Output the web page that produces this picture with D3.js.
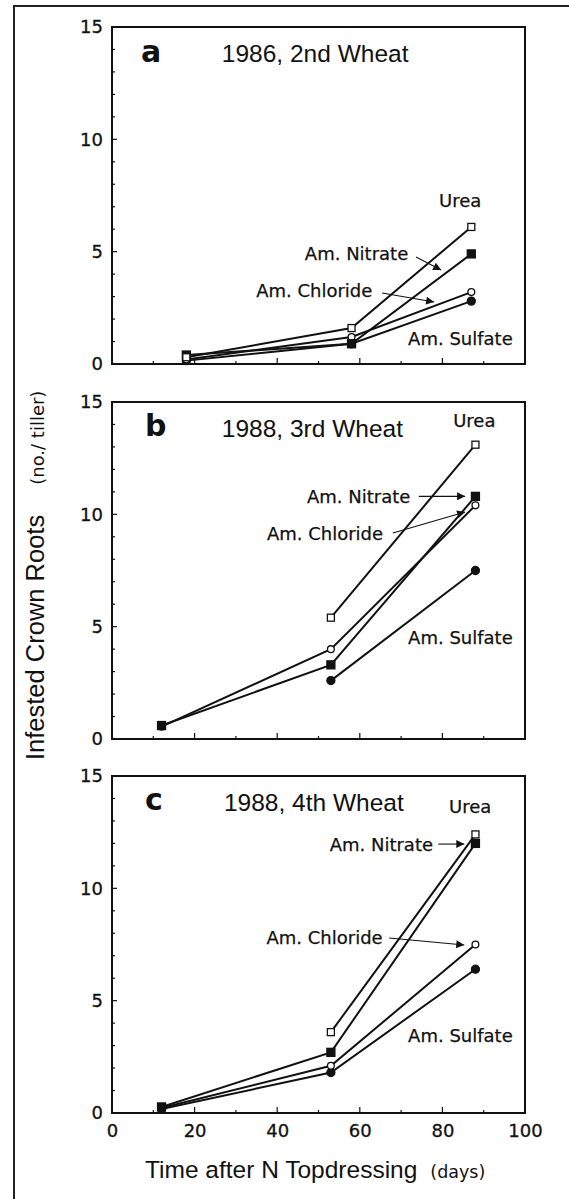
<!DOCTYPE html>
<html>
<head>
<meta charset="utf-8">
<script src="https://cdn.jsdelivr.net/npm/d3@7"></script>
<style>
  body { margin: 0; background: #fff; }
  svg { display: block; }
  .tick text { font-family: "DejaVu Sans", sans-serif; font-size: 18px; fill: #111; stroke: #111; stroke-width: 0.3px; }
  .lbl { font-family: "DejaVu Sans", sans-serif; font-size: 18px; fill: #111; stroke: #111; stroke-width: 0.25px; }
  .ttl { font-family: "Liberation Sans", Arial, sans-serif; font-size: 24.5px; fill: #111; }
  .let { font-family: "DejaVu Sans", sans-serif; font-size: 30px; font-weight: bold; fill: #111; }
</style>
</head>
<body>
<div id="chart"></div>
<script>
// days after topdressing for each panel
var daysA = [18, 58, 87];
var daysB = [12, 53, 88];
var daysC = [12, 53, 88];

// infested crown roots per tiller (null = not sampled)
var ureaA     = [0.3, 1.6, 6.1];
var nitrateA  = [0.4, 0.9, 4.9];
var chlorideA = [0.2, 1.2, 3.2];
var sulfateA  = [0.15, 0.9, 2.8];

var ureaB     = [null, 5.4, 13.1];
var nitrateB  = [0.6, 3.3, 10.8];
var chlorideB = [0.55, 4.0, 10.4];
var sulfateB  = [null, 2.6, 7.5];

var ureaC     = [null, 3.6, 12.4];
var nitrateC  = [0.27, 2.7, 12.0];
var chlorideC = [0.22, 2.1, 7.5];
var sulfateC  = [0.18, 1.8, 6.4];

var seriesNames = ['Urea', 'Am. Nitrate', 'Am. Chloride', 'Am. Sulfate'];
var markers = ['openSquare', 'filledSquare', 'openCircle', 'filledCircle'];

var panelLetters = ['a', 'b', 'c'];
var panelTitles = ['1986, 2nd Wheat', '1988, 3rd Wheat', '1988, 4th Wheat'];

var yTicks = [0, 5, 10, 15];
var xTicks = [0, 20, 40, 60, 80, 100];

// label anchors in data units: [x, y] for Urea, Nitrate, Chloride, Sulfate, title, letter
var labelPosA = [[79.2, 7.0], [46.7, 4.63], [34.9, 2.98], [71.7, 0.85], [26.6, 13.44], [7.0, 13.44]];
var labelPosB = [[82.6, 13.9], [47.2, 10.5], [37.5, 8.86], [71.7, 4.23], [26.6, 13.44], [8.0, 13.5]];
var labelPosC = [[81.6, 13.35], [52.7, 11.66], [37.4, 7.52], [71.7, 3.16], [27.1, 13.44], [8.0, 13.5]];

// arrows [x1, y1, x2, y2]: nitrate, chloride
var arrowsA = [[73.6, 4.76, 79.7, 4.18], [65.4, 3.16, 78.0, 2.76]];
var arrowsB = [[74.3, 10.8, 85.5, 10.8], [68.0, 9.17, 85.5, 10.1]];
var arrowsC = [[79.0, 11.97, 85.3, 11.97], [67.1, 7.79, 85.3, 7.48]];

var panels = [
    { days: daysA, values: [ureaA, nitrateA, chlorideA, sulfateA], labels: labelPosA, arrows: arrowsA, top: 27 },
    { days: daysB, values: [ureaB, nitrateB, chlorideB, sulfateB], labels: labelPosB, arrows: arrowsB, top: 402 },
    { days: daysC, values: [ureaC, nitrateC, chlorideC, sulfateC], labels: labelPosC, arrows: arrowsC, top: 776 }
];

var W = 569, H = 1199;
var left = 112, right = 525, ph = 337;

var svg = d3.select('#chart').append('svg')
    .attr('width', W)
    .attr('height', H);

svg.append('defs').append('marker')
    .attr('id', 'head')
    .attr('viewBox', '0 0 10 10')
    .attr('refX', 10).attr('refY', 5)
    .attr('markerWidth', 12).attr('markerHeight', 8)
    .attr('markerUnits', 'userSpaceOnUse')
    .attr('orient', 'auto')
    .append('path')
    .attr('d', 'M0,0 L10,5 L0,10 Z')
    .attr('fill', '#111');

// outer frame (runs off the page on the right and bottom)
svg.append('path')
    .attr('d', 'M14,' + (H + 5) + ' L14,6 L' + (W + 5) + ',6')
    .attr('fill', 'none')
    .attr('stroke', '#222')
    .attr('stroke-width', 2);

var x = d3.scaleLinear().domain([0, 100]).range([left, right]);

panels.forEach(function (p, pi) {
    var y = d3.scaleLinear().domain([0, 15]).range([p.top + ph, p.top]);
    var g = svg.append('g');

    // frame
    g.append('rect')
        .attr('x', left).attr('y', p.top)
        .attr('width', right - left).attr('height', ph)
        .attr('fill', 'none')
        .attr('stroke', '#111')
        .attr('stroke-width', 2);

    // y ticks, inward
    var yAxis = g.append('g')
        .attr('transform', 'translate(' + left + ',0)')
        .call(d3.axisLeft(y).tickValues(yTicks).tickSize(0).tickPadding(9));
    yAxis.select('.domain').remove();

    g.selectAll('.ymin')
        .data(d3.range(1, 15))
        .enter().append('line')
        .attr('x1', left).attr('x2', function (d) { return left + (d % 5 === 0 ? 5 : 3); })
        .attr('y1', function (d) { return y(d); })
        .attr('y2', function (d) { return y(d); })
        .attr('stroke', '#111').attr('stroke-width', 1.2);

    // x ticks, inward
    g.selectAll('.xmin')
        .data(d3.range(10, 100, 10))
        .enter().append('line')
        .attr('x1', function (d) { return x(d); })
        .attr('x2', function (d) { return x(d); })
        .attr('y1', p.top + ph)
        .attr('y2', function (d) { return p.top + ph - (d % 20 === 0 ? 6 : 3); })
        .attr('stroke', '#111').attr('stroke-width', 1.2);

    if (pi === 2) {
        var xAxis = g.append('g')
            .attr('transform', 'translate(0,' + (p.top + ph) + ')')
            .call(d3.axisBottom(x).tickValues(xTicks).tickSize(0).tickPadding(11));
        xAxis.select('.domain').remove();
    }

    // lines
    var line = d3.line()
        .defined(function (d) { return d[1] !== null; })
        .x(function (d) { return x(d[0]); })
        .y(function (d) { return y(d[1]); });

    p.values.forEach(function (vals) {
        var pts = p.days.map(function (d, i) { return [d, vals[i]]; });
        g.append('path')
            .datum(pts)
            .attr('d', line)
            .attr('fill', 'none')
            .attr('stroke', '#111')
            .attr('stroke-width', 2);
    });

    // markers (sulfate first so squares sit on top)
    [3, 2, 1, 0].forEach(function (si) {
        var vals = p.values[si];
        var pts = p.days.map(function (d, i) { return [d, vals[i]]; })
            .filter(function (d) { return d[1] !== null; });
        var kind = markers[si];
        var sel = g.selectAll('.m' + si).data(pts).enter();
        if (kind === 'openSquare' || kind === 'filledSquare') {
            var s = kind === 'openSquare' ? 7 : 8;
            sel.append('rect')
                .attr('x', function (d) { return x(d[0]) - s / 2; })
                .attr('y', function (d) { return y(d[1]) - s / 2; })
                .attr('width', s).attr('height', s)
                .attr('fill', kind === 'openSquare' ? '#fff' : '#111')
                .attr('stroke', '#111').attr('stroke-width', 1.3);
        } else {
            sel.append('circle')
                .attr('cx', function (d) { return x(d[0]); })
                .attr('cy', function (d) { return y(d[1]); })
                .attr('r', kind === 'openCircle' ? 3.4 : 4)
                .attr('fill', kind === 'openCircle' ? '#fff' : '#111')
                .attr('stroke', '#111').attr('stroke-width', 1.3);
        }
    });

    // series labels
    seriesNames.forEach(function (name, si) {
        g.append('text')
            .attr('class', 'lbl')
            .attr('x', x(p.labels[si][0]))
            .attr('y', y(p.labels[si][1]))
            .text(name);
    });

    g.append('text')
        .attr('class', 'ttl')
        .attr('x', x(p.labels[4][0]))
        .attr('y', y(p.labels[4][1]))
        .text(panelTitles[pi]);

    g.append('text')
        .attr('class', 'let')
        .attr('x', x(p.labels[5][0]))
        .attr('y', y(p.labels[5][1]))
        .text(panelLetters[pi]);

    // arrows
    p.arrows.forEach(function (a) {
        g.append('line')
            .attr('x1', x(a[0])).attr('y1', y(a[1]))
            .attr('x2', x(a[2])).attr('y2', y(a[3]))
            .attr('stroke', '#111').attr('stroke-width', 1.1)
            .attr('marker-end', 'url(#head)');
    });
});

// axis titles
var yt = svg.append('text')
    .attr('transform', 'translate(44,760) rotate(-90)')
    .attr('fill', '#111');
yt.append('tspan')
    .attr('font-family', '"Liberation Sans", Arial, sans-serif')
    .attr('font-size', 25.5).text('Infested Crown Roots');
yt.append('tspan')
    .attr('font-family', '"DejaVu Sans", sans-serif')
    .attr('font-size', 18).attr('dx', 30).text('(no./ tiller)');

var xt = svg.append('text')
    .attr('x', 145).attr('y', 1178)
    .attr('fill', '#111');
xt.append('tspan')
    .attr('font-family', '"Liberation Sans", Arial, sans-serif')
    .attr('font-size', 24.5).text('Time after N Topdressing');
xt.append('tspan')
    .attr('font-family', '"DejaVu Sans", sans-serif')
    .attr('font-size', 17.5).attr('dx', 13).text('(days)');
</script>
</body>
</html>
